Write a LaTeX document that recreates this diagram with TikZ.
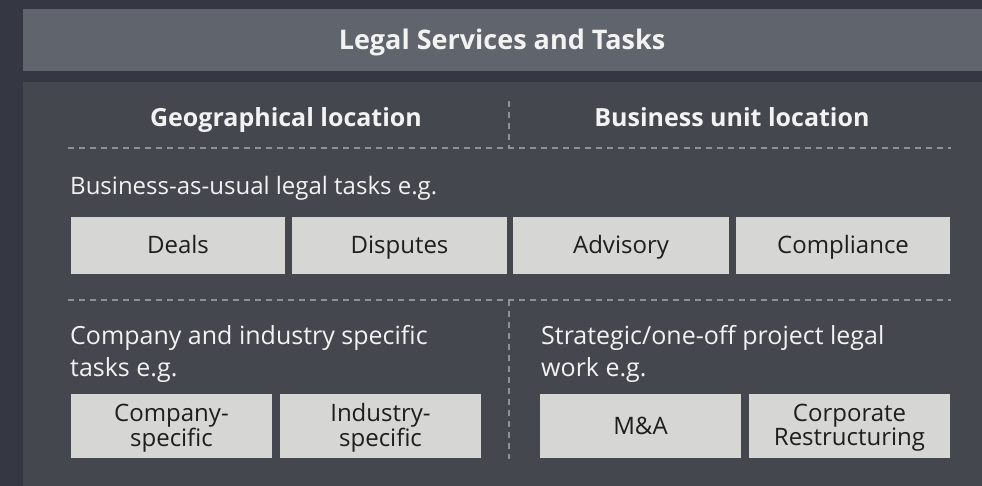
\documentclass[tikz,border=0pt]{standalone}
\usepackage{fontspec}
\setmainfont{Open Sans}
\definecolor{bgdark}{HTML}{353743}
\definecolor{headbg}{HTML}{60646C}
\definecolor{panelbg}{HTML}{45474F}
\definecolor{boxbg}{HTML}{D6D6D4}
\definecolor{dashc}{HTML}{8F9197}
\definecolor{txtlight}{HTML}{F2F2F2}
\definecolor{txtdark}{HTML}{1E1E1E}
\begin{document}
\begin{tikzpicture}[x=1pt,y=-1pt,
  taskbox/.style={draw=none,fill=boxbg,text=txtdark,inner sep=0pt,align=center,
    font=\fontsize{24}{24}\selectfont},
  onebox/.style={taskbox,text height=17pt,text depth=0pt},
  headtxt/.style={text=txtlight,inner sep=0pt,anchor=base,font=\fontsize{25}{28}\bfseries\selectfont},
  bodytxt/.style={text=txtlight,inner sep=0pt,align=left,font=\fontsize{25}{32.5}\selectfont},
  sepline/.style={dashc,line width=2pt,dash pattern=on 6pt off 5pt}]
\useasboundingbox (0,0) rectangle (982,486);
\fill[bgdark] (0,0) rectangle (982,486);
\fill[headbg] (23,9) rectangle (982,71);
\fill[panelbg] (23,82) rectangle (982,486);
\node[text=txtlight,inner sep=0pt,anchor=base,font=\fontsize{27}{30}\bfseries\selectfont] (title) at (502,49.5) {Legal Services and Tasks};
\node[headtxt] (geo) at (286,126.5) {Geographical location};
\node[headtxt] (bul) at (732,126.5) {Business unit location};
% separators
\coordinate (h1l) at (68,148); \coordinate (h1r) at (951,148);
\coordinate (v1t) at (509,101); \coordinate (v1b) at (509,148);
\coordinate (h2l) at (68,300); \coordinate (h2r) at (951,300);
\coordinate (v2t) at (509,300); \coordinate (v2b) at (509,459);
\draw[sepline] (h1l) -- (h1r);
\draw[sepline] (v1t) -- (v1b);
\draw[sepline] (h2l) -- (h2r);
\draw[sepline] (v2t) -- (v2b);
\node[bodytxt,anchor=base west,font=\fontsize{24}{30}\selectfont] (bau) at (70,194.5) {Business-as-usual legal tasks e.g.};
\node[onebox,minimum width=214pt,minimum height=57pt] (deals) at (178,245.5) {Deals};
\node[onebox,minimum width=215pt,minimum height=57pt] (disp) at (399.5,245.5) {Disputes};
\node[onebox,minimum width=216pt,minimum height=57pt] (adv) at (621,245.5) {Advisory};
\node[onebox,minimum width=214pt,minimum height=57pt] (comp) at (843,245.5) {Compliance};
\node[bodytxt,anchor=north west] (cis) at (70,325) {Company and industry specific\\tasks e.g.};
\node[bodytxt,anchor=north west] (sop) at (541,325) {Strategic/one-off project legal\\work e.g.};
\node[taskbox,minimum width=201pt,minimum height=64pt] (cs) at (171.5,426) {};
\node[taskbox,minimum width=201pt,minimum height=64pt] (is) at (380.5,426) {};
\node[onebox,minimum width=201pt,minimum height=64pt] (ma) at (640.5,426) {M\&A};
\node[taskbox,minimum width=201pt,minimum height=64pt] (cr) at (849.5,426) {};
\node[taskbox,fill=none,anchor=center,yshift=-2pt] (cst) at (cs.center) {Company-\\specific};
\node[taskbox,fill=none,anchor=center,yshift=-2pt] (ist) at (is.center) {Industry-\\specific};
\node[taskbox,fill=none,anchor=center,yshift=-2pt] (crt) at (cr.center) {Corporate\\Restructuring};
\end{tikzpicture}
\end{document}
